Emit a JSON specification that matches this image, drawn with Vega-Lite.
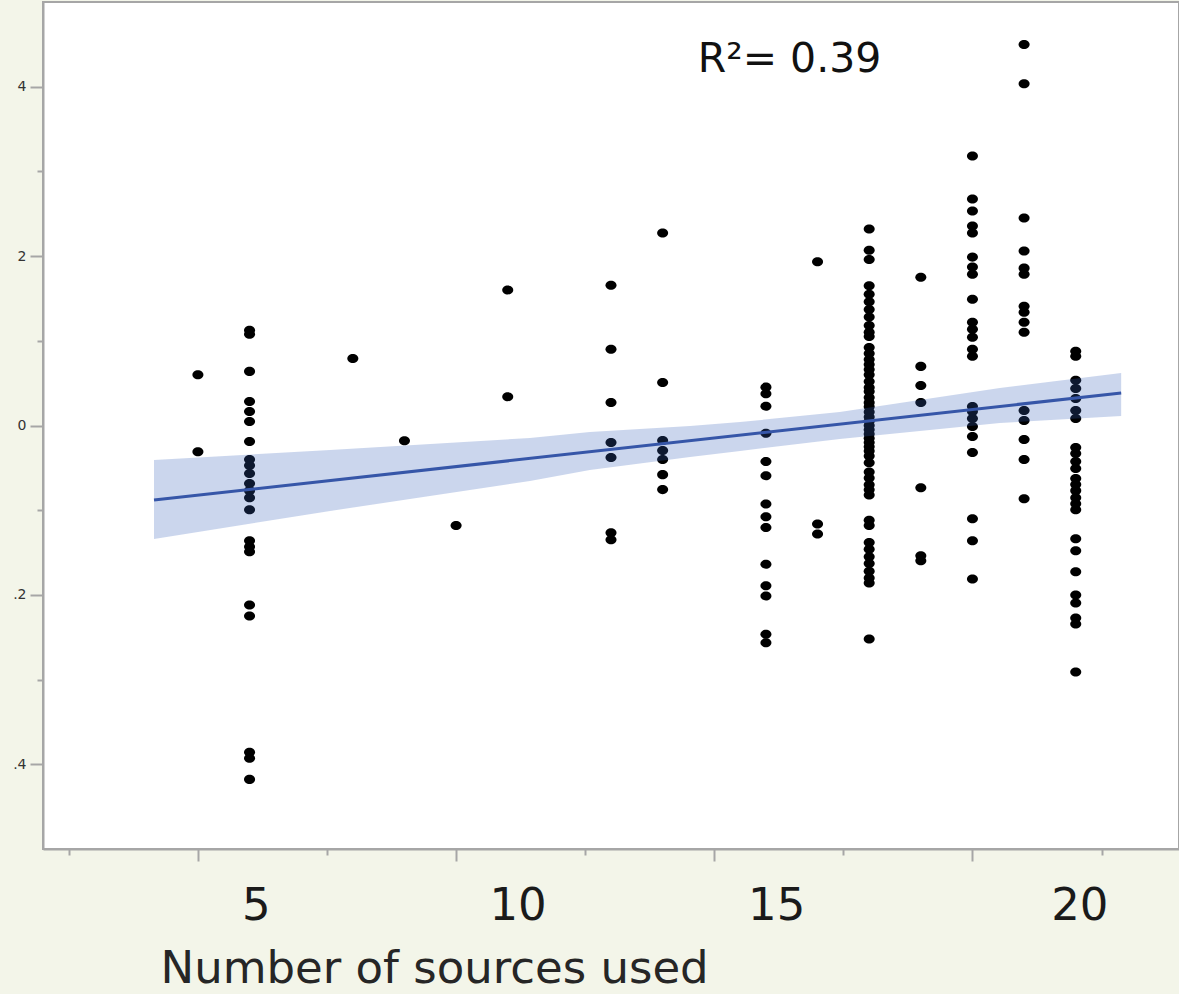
{
  "$schema": "https://vega.github.io/schema/vega-lite/v6.json",
  "width": 1136,
  "height": 847,
  "autosize": {"type": "none"},
  "padding": {"left": 43, "top": 2, "right": 0, "bottom": 145},
  "background": "#f3f5e9",
  "config": {"view": {"fill": "white", "stroke": "#a6a6a6", "strokeWidth": 2}, "font": "DejaVu Sans"},
  "datasets": {
    "points": [
      {"x":4,"y":0.60},{"x":4,"y":-0.31},
      {"x":5,"y":1.124},{"x":5,"y":1.077},{"x":5,"y":0.639},{"x":5,"y":0.284},{"x":5,"y":0.166},{"x":5,"y":0.047},{"x":5,"y":-0.189},{"x":5,"y":-0.402},{"x":5,"y":-0.473},{"x":5,"y":-0.568},{"x":5,"y":-0.686},{"x":5,"y":-0.769},{"x":5,"y":-0.852},{"x":5,"y":-0.994},{"x":5,"y":-1.361},{"x":5,"y":-1.432},{"x":5,"y":-1.491},{"x":5,"y":-2.118},{"x":5,"y":-2.249},{"x":5,"y":-3.858},{"x":5,"y":-3.929},{"x":5,"y":-4.178},
      {"x":7,"y":0.79},
      {"x":8,"y":-0.18},
      {"x":9,"y":-1.18},
      {"x":10,"y":1.60},{"x":10,"y":0.34},
      {"x":12,"y":1.657},{"x":12,"y":0.899},{"x":12,"y":0.272},{"x":12,"y":-0.201},{"x":12,"y":-0.379},{"x":12,"y":-1.266},{"x":12,"y":-1.349},
      {"x":13,"y":2.272},{"x":13,"y":0.509},{"x":13,"y":-0.178},{"x":13,"y":-0.296},{"x":13,"y":-0.402},{"x":13,"y":-0.580},{"x":13,"y":-0.757},
      {"x":15,"y":0.453},{"x":15,"y":0.375},{"x":15,"y":0.228},{"x":15,"y":-0.091},{"x":15,"y":-0.426},{"x":15,"y":-0.592},{"x":15,"y":-0.927},{"x":15,"y":-1.077},{"x":15,"y":-1.204},{"x":15,"y":-1.637},{"x":15,"y":-1.893},{"x":15,"y":-2.012},{"x":15,"y":-2.465},{"x":15,"y":-2.565},
      {"x":16,"y":1.933},{"x":16,"y":-1.163},{"x":16,"y":-1.282},
      {"x":17,"y":2.32},{"x":17,"y":2.07},{"x":17,"y":1.96},{"x":17,"y":1.65},{"x":17,"y":1.55},{"x":17,"y":1.46},{"x":17,"y":1.37},{"x":17,"y":1.28},{"x":17,"y":1.18},{"x":17,"y":1.10},{"x":17,"y":1.05},{"x":17,"y":0.92},{"x":17,"y":0.85},{"x":17,"y":0.78},{"x":17,"y":0.72},{"x":17,"y":0.66},{"x":17,"y":0.60},{"x":17,"y":0.52},{"x":17,"y":0.45},{"x":17,"y":0.40},{"x":17,"y":0.33},{"x":17,"y":0.27},{"x":17,"y":0.22},{"x":17,"y":0.16},{"x":17,"y":0.10},{"x":17,"y":0.05},{"x":17,"y":0.0},{"x":17,"y":-0.05},{"x":17,"y":-0.10},{"x":17,"y":-0.15},{"x":17,"y":-0.20},{"x":17,"y":-0.25},{"x":17,"y":-0.30},{"x":17,"y":-0.36},{"x":17,"y":-0.44},{"x":17,"y":-0.55},{"x":17,"y":-0.62},{"x":17,"y":-0.70},{"x":17,"y":-0.76},{"x":17,"y":-0.82},{"x":17,"y":-1.12},{"x":17,"y":-1.18},{"x":17,"y":-1.38},{"x":17,"y":-1.46},{"x":17,"y":-1.55},{"x":17,"y":-1.63},{"x":17,"y":-1.72},{"x":17,"y":-1.80},{"x":17,"y":-1.86},{"x":17,"y":-2.52},
      {"x":18,"y":1.751},{"x":18,"y":0.698},{"x":18,"y":0.473},{"x":18,"y":0.272},{"x":18,"y":-0.734},{"x":18,"y":-1.538},{"x":18,"y":-1.598},
      {"x":19,"y":3.183},{"x":19,"y":2.675},{"x":19,"y":2.533},{"x":19,"y":2.355},{"x":19,"y":2.272},{"x":19,"y":1.988},{"x":19,"y":1.870},{"x":19,"y":1.787},{"x":19,"y":1.491},{"x":19,"y":1.219},{"x":19,"y":1.136},{"x":19,"y":1.041},{"x":19,"y":0.899},{"x":19,"y":0.817},{"x":19,"y":0.225},{"x":19,"y":0.166},{"x":19,"y":0.083},{"x":19,"y":-0.012},{"x":19,"y":-0.130},{"x":19,"y":-0.320},{"x":19,"y":-1.101},{"x":19,"y":-1.361},{"x":19,"y":-1.811},
      {"x":20,"y":4.497},{"x":20,"y":4.036},{"x":20,"y":2.450},{"x":20,"y":2.059},{"x":20,"y":1.858},{"x":20,"y":1.787},{"x":20,"y":1.408},{"x":20,"y":1.337},{"x":20,"y":1.219},{"x":20,"y":1.101},{"x":20,"y":0.178},{"x":20,"y":0.059},{"x":20,"y":-0.166},{"x":20,"y":-0.402},{"x":20,"y":-0.864},
      {"x":21,"y":0.876},{"x":21,"y":0.817},{"x":21,"y":0.533},{"x":21,"y":0.438},{"x":21,"y":0.320},{"x":21,"y":0.178},{"x":21,"y":0.083},{"x":21,"y":-0.260},{"x":21,"y":-0.331},{"x":21,"y":-0.426},{"x":21,"y":-0.509},{"x":21,"y":-0.627},{"x":21,"y":-0.698},{"x":21,"y":-0.769},{"x":21,"y":-0.852},{"x":21,"y":-0.923},{"x":21,"y":-0.994},{"x":21,"y":-1.337},{"x":21,"y":-1.479},{"x":21,"y":-1.728},{"x":21,"y":-2.0},{"x":21,"y":-2.095},{"x":21,"y":-2.272},{"x":21,"y":-2.343},{"x":21,"y":-2.911}
    ],
    "fit": [{"x": 3.15, "y": -0.88}, {"x": 21.88, "y": 0.384}],
    "band": [
      {"x": 3.15, "lo": -1.340, "hi": -0.407},
      {"x": 6.56, "lo": -1.009, "hi": -0.289},
      {"x": 10.43, "lo": -0.655, "hi": -0.148},
      {"x": 11.59, "lo": -0.525, "hi": -0.077},
      {"x": 13.53, "lo": -0.372, "hi": -0.006},
      {"x": 14.5, "lo": -0.301, "hi": 0.041},
      {"x": 16.43, "lo": -0.159, "hi": 0.159},
      {"x": 19.53, "lo": 0.03, "hi": 0.443},
      {"x": 21.88, "lo": 0.112, "hi": 0.620}
    ],
    "note": [{"x": 13.68, "y": 4.17, "text": "R²= 0.39"}]
  },
  "resolve": {"axis": {"x": "independent", "y": "independent"}},
  "layer": [
    {
      "data": {"name": "points"},
      "mark": {"type": "point", "shape": "M-1,0A1,0.82 0 1,0 1,0A1,0.82 0 1,0 -1,0Z", "filled": true, "color": "#000000", "size": 121, "opacity": 1, "strokeWidth": 0},
      "encoding": {
        "x": {"field": "x", "type": "quantitative", "scale": {"domain": [1, 23], "nice": false, "zero": false},
          "axis": {"orient": "bottom", "values": [4, 9, 14, 19], "tickSize": 12, "tickColor": "#a6a6a6", "tickWidth": 2, "labels": false, "domain": false, "grid": false, "title": null}},
        "y": {"field": "y", "type": "quantitative", "scale": {"domain": [-5, 5], "nice": false, "zero": false},
          "axis": {"orient": "left", "values": [-4, -2, 0, 2, 4], "tickSize": 13, "tickColor": "#a6a6a6", "tickWidth": 2, "domain": false, "grid": false, "labelFontSize": 14, "labelColor": "#333333", "labelPadding": 4, "labelExpr": "datum.value < 0 ? '.' + abs(datum.value) : datum.label", "title": null}}
      }
    },
    {
      "data": {"name": "band"},
      "mark": {"type": "area", "color": "#3560bb", "opacity": 0.26},
      "encoding": {
        "x": {"field": "x", "type": "quantitative", "scale": {"domain": [1, 23], "nice": false, "zero": false},
          "axis": {"orient": "bottom", "values": [1.5, 6.5, 11.5, 16.5, 21.5], "tickSize": 6, "tickColor": "#a6a6a6", "tickWidth": 2, "labels": false, "domain": true, "domainColor": "#a6a6a6", "domainWidth": 2, "grid": false, "title": null}},
        "y": {"field": "lo", "type": "quantitative", "scale": {"domain": [-5, 5], "nice": false, "zero": false},
          "axis": {"orient": "left", "values": [-3, -1, 1, 3], "tickSize": 6, "tickColor": "#a6a6a6", "tickWidth": 2, "labels": false, "domain": true, "domainColor": "#a6a6a6", "domainWidth": 2, "grid": false, "title": null}},
        "y2": {"field": "hi"}
      }
    },
    {
      "data": {"name": "fit"},
      "mark": {"type": "line", "color": "#3656a8", "strokeWidth": 3},
      "encoding": {
        "x": {"field": "x", "type": "quantitative", "scale": {"domain": [1, 23], "nice": false, "zero": false},
          "axis": {"orient": "bottom", "values": [5.12, 10.19, 15.2, 21.07], "ticks": false, "tickSize": 0, "domain": false, "grid": false,
            "labelExpr": "datum.value < 7 ? '5' : datum.value < 12 ? '10' : datum.value < 17 ? '15' : '20'",
            "labelFont": "DejaVu Sans", "labelFontSize": 45, "labelColor": "#1a1a1a", "labelBaseline": "alphabetic", "labelPadding": 70, "labelOverlap": false, "labelFlush": false,
            "title": "Number of sources used", "titleFont": "DejaVu Sans", "titleFontSize": 45, "titleFontWeight": "normal", "titleColor": "#262626",
            "titleX": 117, "titleY": 133, "titleAlign": "left", "titleBaseline": "alphabetic", "titleAngle": 0}},
        "y": {"field": "y", "type": "quantitative", "scale": {"domain": [-5, 5], "nice": false, "zero": false}, "axis": null}
      }
    },
    {
      "data": {"name": "note"},
      "mark": {"type": "text", "align": "left", "baseline": "alphabetic", "font": "DejaVu Sans", "fontSize": 41, "color": "#111111"},
      "encoding": {
        "x": {"field": "x", "type": "quantitative", "scale": {"domain": [1, 23], "nice": false, "zero": false}, "axis": null},
        "y": {"field": "y", "type": "quantitative", "scale": {"domain": [-5, 5], "nice": false, "zero": false}, "axis": null},
        "text": {"field": "text"}
      }
    }
  ]
}
